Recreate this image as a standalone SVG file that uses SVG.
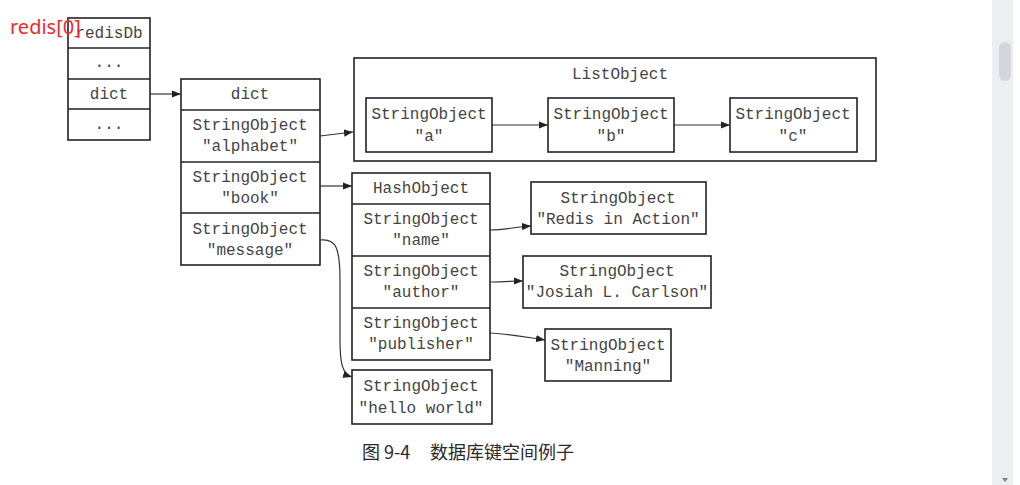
<svg xmlns="http://www.w3.org/2000/svg" width="1020" height="485" viewBox="0 0 1020 485">
<style>
.b{fill:#fff;stroke:#222;stroke-width:1.6}
.t{font-family:"Liberation Mono","DejaVu Sans Mono",monospace;font-size:16px;fill:#444;text-anchor:middle}
.c{fill:none;stroke:#333;stroke-width:1.2}
.cap{font-family:"Noto Sans CJK SC","Noto Sans",sans-serif;font-size:18px;fill:#2a2a2a}
</style>
<defs>
<marker id="ah" viewBox="0 0 10 10" refX="10" refY="5" markerWidth="9" markerHeight="9" markerUnits="userSpaceOnUse" orient="auto">
<path d="M0,1 L10,5 L0,9 Z" fill="#222"/>
</marker>
</defs>
<rect width="1020" height="485" fill="#fff"/>
<g id="scrollbar">
<rect x="992" y="0" width="21" height="485" fill="#eceef2"/>
<rect x="999" y="42" width="12" height="39" rx="6" fill="#d3d6dc"/>
<path d="M1002,478 L1008,478 L1005,482 Z" fill="#7a7f8a"/>
</g>
<g id="redisDb">
<rect class="b" x="68" y="18" width="82" height="122"/>
<line class="b" x1="68" y1="48" x2="150" y2="48"/>
<line class="b" x1="68" y1="79" x2="150" y2="79"/>
<line class="b" x1="68" y1="109" x2="150" y2="109"/>
<text class="t" x="109" y="38">redisDb</text>
<text class="t" x="109" y="67">...</text>
<text class="t" x="109" y="99">dict</text>
<text class="t" x="109" y="129">...</text>
</g>
<g id="label">
<text x="10" y="34" font-family="'Noto Sans','Liberation Sans',sans-serif" font-size="20" fill="#f02a2a">redis[0]</text>
</g>
<g id="dict">
<rect class="b" x="181" y="79" width="139" height="186"/>
<line class="b" x1="181" y1="110" x2="320" y2="110"/>
<line class="b" x1="181" y1="162" x2="320" y2="162"/>
<line class="b" x1="181" y1="213" x2="320" y2="213"/>
<text class="t" x="250" y="99">dict</text>
<text class="t" x="250" y="130">StringObject</text>
<text class="t" x="250" y="151">"alphabet"</text>
<text class="t" x="250" y="182">StringObject</text>
<text class="t" x="250" y="203">"book"</text>
<text class="t" x="250" y="234">StringObject</text>
<text class="t" x="250" y="255">"message"</text>
</g>
<g id="ListObject">
<rect class="b" x="354" y="58" width="522" height="103"/>
<text class="t" x="620" y="79">ListObject</text>
</g>
<g id="str-a">
<rect class="b" x="366" y="98" width="126" height="54"/>
<text class="t" x="429" y="119">StringObject</text>
<text class="t" x="429" y="141">"a"</text>
</g>
<g id="str-b">
<rect class="b" x="548" y="98" width="126" height="54"/>
<text class="t" x="611" y="119">StringObject</text>
<text class="t" x="611" y="141">"b"</text>
</g>
<g id="str-c">
<rect class="b" x="730" y="98" width="127" height="54"/>
<text class="t" x="793" y="119">StringObject</text>
<text class="t" x="793" y="141">"c"</text>
</g>
<g id="HashObject">
<rect class="b" x="352" y="173" width="138" height="187"/>
<line class="b" x1="352" y1="204" x2="490" y2="204"/>
<line class="b" x1="352" y1="256" x2="490" y2="256"/>
<line class="b" x1="352" y1="308" x2="490" y2="308"/>
<text class="t" x="421" y="193">HashObject</text>
<text class="t" x="421" y="224">StringObject</text>
<text class="t" x="421" y="245">"name"</text>
<text class="t" x="421" y="276">StringObject</text>
<text class="t" x="421" y="297">"author"</text>
<text class="t" x="421" y="328">StringObject</text>
<text class="t" x="421" y="349">"publisher"</text>
</g>
<g id="str-redis-in-action">
<rect class="b" x="531" y="182" width="175" height="52"/>
<text class="t" x="618" y="203">StringObject</text>
<text class="t" x="618" y="224">"Redis in Action"</text>
</g>
<g id="str-josiah">
<rect class="b" x="523" y="256" width="188" height="52"/>
<text class="t" x="617" y="276">StringObject</text>
<text class="t" x="617" y="297">"Josiah L. Carlson"</text>
</g>
<g id="str-manning">
<rect class="b" x="545" y="329" width="126" height="52"/>
<text class="t" x="608" y="350">StringObject</text>
<text class="t" x="608" y="371">"Manning"</text>
</g>
<g id="str-hello">
<rect class="b" x="352" y="370" width="140" height="54"/>
<text class="t" x="421" y="391">StringObject</text>
<text class="t" x="421" y="413">"hello world"</text>
</g>
<g id="connectors">
<line class="c" x1="150" y1="94" x2="181" y2="94" marker-end="url(#ah)"/>
<line class="c" x1="320" y1="136" x2="353" y2="132" marker-end="url(#ah)"/>
<line class="c" x1="492" y1="125" x2="548" y2="125" marker-end="url(#ah)"/>
<line class="c" x1="674" y1="125" x2="730" y2="125" marker-end="url(#ah)"/>
<line class="c" x1="320" y1="186" x2="352" y2="186" marker-end="url(#ah)"/>
<path class="c" d="M490,230 C505,230 515,227 531,226" marker-end="url(#ah)"/>
<path class="c" d="M490,282 C500,282 510,281 523,281" marker-end="url(#ah)"/>
<path class="c" d="M490,333 C510,334 525,337 545,340" marker-end="url(#ah)"/>
<path class="c" d="M320,240 C336,238 340,248 340,280 L340,340 C340,362 342,374 352,377" marker-end="url(#ah)"/>
</g>
<g id="caption">
<text class="cap" x="362" y="459">图 9-4</text>
<text class="cap" x="430" y="459">数据库键空间例子</text>
</g>
</svg>
